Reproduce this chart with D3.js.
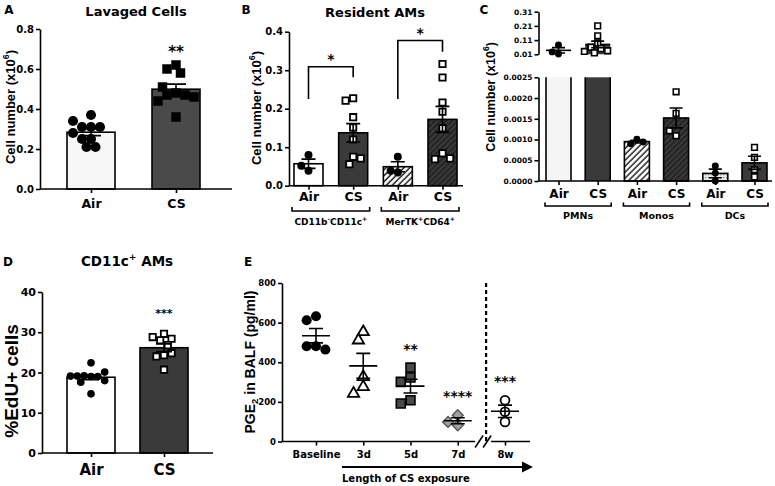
<!DOCTYPE html>
<html><head><meta charset="utf-8">
<script src="https://cdn.jsdelivr.net/npm/d3@7"></script>
<style>body{margin:0;background:#fff} svg{display:block}</style>
</head><body><svg id="c" width="775" height="486"></svg>
<script>
// ---------------- DATA ----------------
// Panel A: Lavaged cells (x10^6)
const aCats = ["Air", "CS"];
const aAir = [0.37, 0.31, 0.31, 0.31, 0.34, 0.25, 0.21, 0.21, 0.25, 0.28];
const aCS = [0.62, 0.60, 0.58, 0.48, 0.47, 0.47, 0.51, 0.36, 0.44, 0.46];
const aTicks = [0, 0.2, 0.4, 0.6, 0.8];

// Panel B: Resident AMs
const bKeys = ["cdAir", "cdCS", "merAir", "merCS"];
const bLabels = ["Air", "CS", "Air", "CS"];
const bCD11Air = [0.080, 0.039, 0.052];
const bCD11CS = [0.227, 0.221, 0.178, 0.151, 0.120, 0.075, 0.056, 0.071];
const bMerAir = [0.075, 0.034, 0.039];
const bMerCS = [0.316, 0.281, 0.216, 0.192, 0.149, 0.084, 0.069, 0.071];
const bTicks = [0, 0.1, 0.2, 0.3, 0.4];
const bBracketTop = [0.309, 0.377];
const bBracketLegs = [[0.225, 0.282], [0.225, 0.348]];

// Panel C: PMNs, Monos, DCs
const cKeys = ["pmnAir", "pmnCS", "monoAir", "monoCS", "dcAir", "dcCS"];
const cLabels = ["Air", "CS", "Air", "CS", "Air", "CS"];
const cGroups = ["PMNs", "Monos", "DCs"];
const cPmnAir = [0.075, 0.012, 0.027];
const cPmnCS = [0.21, 0.14, 0.09, 0.06, 0.05, 0.035, 0.02, 0.03];
const cMonoAir = [0.00101, 0.00090, 0.00094];
const cMonoCS = [0.00215, 0.00163, 0.00109, 0.00121];
const cDcAir = [0.00036, 0.00019, 0.00000];
const cDcCS = [0.00081, 0.00057, 0.00027, 0.00010];
const cTopTicks = [0.01, 0.11, 0.21, 0.31];
const cBotTicks = [0, 0.0005, 0.0010, 0.0015, 0.0020, 0.0025];

// Panel D: %EdU+ CD11c+ AMs
const dCats = ["Air", "CS"];
const dAir = [22.4, 19.0, 19.2, 19.0, 19.1, 20.1, 17.6, 18.0, 19.1, 14.7];
const dCS = [29.6, 28.0, 28.4, 28.8, 26.8, 24.3, 24.0, 24.8, 20.7];
const dTicks = [0, 10, 20, 30, 40];

// Panel E: PGE2 in BALF
const eCats = ["Baseline", "3d", "5d", "7d", "8w"];
const eBaseline = [632, 612, 481, 481, 464];
const e3d = [553, 511, 326, 276, 242];
const e5d = [373, 323, 301, 208, 192];
const e7d = [133, 99, 82];
const e8w = [208, 150, 99];
const eStars = ["", "", "**", "****", "***"];
const eTicks = [0, 200, 400, 600, 800];

// ---------------- HELPERS ----------------
const F = '"DejaVu Sans", sans-serif';
const FR = '"Liberation Sans", Arial, sans-serif';
const svg = d3.select("#c");
const defs = svg.append("defs");
const SW = 1.6;

function hatch(id, bg, fg, sp, w) {
  const p = defs.append("pattern").attr("id", id).attr("patternUnits", "userSpaceOnUse")
    .attr("width", sp).attr("height", sp).attr("patternTransform", "rotate(45)");
  p.append("rect").attr("width", sp).attr("height", sp).attr("fill", bg);
  p.append("line").attr("x1", 1).attr("y1", 0).attr("x2", 1).attr("y2", sp).attr("stroke", fg).attr("stroke-width", w);
}
hatch("hWhite", "#fff", "#222", 4.2, 1.5);
hatch("hDark2", "#3a3a3a", "#1a1a1a", 4, 1.4);
(function(){
  const p = defs.append("pattern").attr("id", "dots").attr("patternUnits", "userSpaceOnUse").attr("width", 3).attr("height", 3);
  p.append("rect").attr("width", 3).attr("height", 3).attr("fill", "#e8e8e8");
  p.append("rect").attr("width", 1.2).attr("height", 1.2).attr("fill", "#888");
})();

function label(g, xc, yc, parts, fs, o = {}) {
  const t = g.append("text").attr("x", xc).attr("y", yc + 0.36 * fs)
    .attr("text-anchor", o.anchor || "middle").attr("font-family", o.rot ? FR : F)
    .attr("font-weight", "bold").attr("font-size", fs).attr("fill", "#000");
  if (o.rot) t.attr("transform", `rotate(-90,${xc},${yc})`);
  if (typeof parts === "string") parts = [{ t: parts }];
  let cur = 0;
  parts.forEach(p => {
    const target = p.sup ? -0.42 * fs : p.sub ? 0.22 * fs : 0;
    const ts = t.append("tspan").text(p.t).attr("dy", target - cur);
    if (p.sup || p.sub) ts.attr("font-size", fs * 0.68);
    cur = target;
  });
  return t;
}
function styleAxis(a, fs) {
  a.select(".domain").attr("stroke", "#000").attr("stroke-width", SW);
  a.selectAll(".tick line").attr("stroke", "#000").attr("stroke-width", SW);
  a.selectAll(".tick text").attr("font-family", F).attr("font-weight", "bold").attr("font-size", fs).attr("fill", "#000");
}
function yAxis(g, scale, x, ticks, fmt, fs) {
  const a = g.append("g").attr("transform", `translate(${x},0)`)
    .call(d3.axisLeft(scale).tickValues(ticks).tickFormat(fmt).tickSize(4).tickSizeOuter(0).tickPadding(2));
  styleAxis(a, fs);
  return a;
}
function xAxis(g, scale, y, x0, x1, fs, labelOff, fmt) {
  const pad = labelOff - 0.365 * fs - 4;
  const a = g.append("g").attr("transform", `translate(0,${y})`)
    .call(d3.axisBottom(scale).tickSize(4).tickSizeOuter(0).tickPadding(pad).tickFormat(fmt || (d => d)));
  styleAxis(a, fs);
  a.select(".domain").remove();
  if (x0 !== null) g.append("line").attr("x1", x0).attr("x2", x1).attr("y1", y).attr("y2", y).attr("stroke", "#000").attr("stroke-width", SW);
  return a;
}
function bar(g, cx, w, yTop, yBot, fill, stroke = true) {
  g.append("rect").attr("x", cx - w / 2).attr("y", yTop).attr("width", w).attr("height", Math.max(0, yBot - yTop))
    .attr("fill", fill).attr("stroke", stroke ? "#000" : "none").attr("stroke-width", SW);
}
function errBar(g, cx, yM, yLo, yHi, cap, meanW) {
  const p = d3.path();
  p.moveTo(cx, yLo); p.lineTo(cx, yHi);
  p.moveTo(cx - cap / 2, yHi); p.lineTo(cx + cap / 2, yHi);
  p.moveTo(cx - cap / 2, yLo); p.lineTo(cx + cap / 2, yLo);
  if (meanW) { p.moveTo(cx - meanW / 2, yM); p.lineTo(cx + meanW / 2, yM); }
  g.append("path").attr("d", p.toString()).attr("stroke", "#000").attr("stroke-width", SW).attr("fill", "none");
}
const sem = a => d3.deviation(a) / Math.sqrt(a.length);
function swarm(vals, yf, cx, r) {
  const placed = [];
  return vals.map(v => {
    const y = yf(v); let x = cx;
    for (let i = 0; i < 60; i++) {
      const off = i === 0 ? 0 : Math.ceil(i / 2) * r * 0.9 * (i % 2 ? -1 : 1);
      const c = cx + off;
      if (placed.every(p => Math.hypot(p.x - c, p.y - y) >= 2 * r * 0.88)) { x = c; break; }
    }
    placed.push({ x, y });
    return { x, y, v };
  });
}
function points(g, vals, yf, cx, sym, size, fill, stroke, sw, r, rot) {
  const pts = swarm(vals, yf, cx, r);
  g.selectAll(null).data(pts).join("path")
    .attr("transform", d => `translate(${d.x},${d.y})` + (rot ? ` rotate(${rot})` : ""))
    .attr("d", d3.symbol(sym, size)()).attr("fill", fill).attr("stroke", stroke).attr("stroke-width", sw);
}
function bracket(g, x0, x1, y, h) {
  g.append("path").attr("d", `M${x0},${y - h}V${y}H${x1}V${y - h}`).attr("fill", "none").attr("stroke", "#000").attr("stroke-width", SW);
}

// ---------------- PANEL A ----------------
{
  const g = svg.append("g");
  const y = d3.scaleLinear().domain([0, 0.8]).range([189, 29]);
  const x = d3.scalePoint().domain(aCats).range([91, 176]);
  const series = [aAir, aCS];
  const fills = ["#f7f7f7", "#4a4a4a"];
  series.forEach((s, i) => bar(g, x(aCats[i]), 48, y(d3.mean(s)), y(0), fills[i]));
  points(g, aAir, y, x("Air"), d3.symbolCircle, 80, "#000", "none", 0, 5);
  points(g, aCS, y, x("CS"), d3.symbolSquare, 90, "#000", "none", 0, 5);
  series.forEach((s, i) => { const m = d3.mean(s), e = sem(s); errBar(g, x(aCats[i]), y(m), y(m - e), y(m + e), 20, 0); });
  yAxis(g, y, 40, aTicks, d3.format(".1f"), 10);
  xAxis(g, x, 189, 40, 232, 12.5, 15);
  label(g, x("CS"), y(d3.max(aCS)) - 13, "**", 15);
  label(g, 136, 11, "Lavaged Cells", 13);
  label(g, 10, 107, [{ t: "Cell number (x10" }, { t: "6", sup: true }, { t: ")" }], 13, { rot: true });
  label(g, 9, 10, "A", 12);
}

// ---------------- PANEL B ----------------
{
  const g = svg.append("g");
  const y = d3.scaleLinear().domain([0, 0.4]).range([185.7, 31.7]);
  const x = d3.scalePoint().domain(bKeys).range([308.5, 442.5]);
  const series = [bCD11Air, bCD11CS, bMerAir, bMerCS];
  const fills = ["#fff", "#3a3a3a", "url(#hWhite)", "url(#hDark2)"];
  series.forEach((s, i) => bar(g, x(bKeys[i]), 29, y(d3.mean(s)), y(0), fills[i]));
  [0, 2].forEach(i => points(g, series[i], y, x(bKeys[i]), d3.symbolCircle, 50, "#000", "none", 0, 4));
  [1, 3].forEach(i => points(g, series[i], y, x(bKeys[i]), d3.symbolSquare, 40, "#fff", "#000", 1.8, 4.2));
  series.forEach((s, i) => { const m = d3.mean(s), e = sem(s); errBar(g, x(bKeys[i]), y(m), y(m - e), y(m + e), 14, 0); });
  yAxis(g, y, 289, bTicks, d3.format(".1f"), 10);
  xAxis(g, x, 185.7, 289, 463, 12.5, 11.3, (d, i) => bLabels[i]);
  [[0, 1], [2, 3]].forEach((pr, k) => {
    const x0 = x(bKeys[pr[0]]), x1 = x(bKeys[pr[1]]);
    const yt = y(bBracketTop[k]);
    g.append("path").attr("d", `M${x0},${y(bBracketLegs[k][0])}V${yt}H${x1}V${y(bBracketLegs[k][1])}`)
      .attr("fill", "none").attr("stroke", "#000").attr("stroke-width", SW);
    label(g, (x0 + x1) / 2, yt - 8, "*", 14);
  });
  const grp = [[0, 1, [{ t: "CD11b" }, { t: "-", sup: true }, { t: "CD11c" }, { t: "+", sup: true }]],
               [2, 3, [{ t: "MerTK" }, { t: "+", sup: true }, { t: "CD64" }, { t: "+", sup: true }]]];
  grp.forEach(([a, b, txt]) => {
    const x0 = x(bKeys[a]) - 16.5, x1 = x(bKeys[b]) + 16.5;
    bracket(g, x0, x1, 211, 4);
    label(g, (x0 + x1) / 2, 222, txt, 9);
  });
  label(g, 375, 12, "Resident AMs", 13);
  label(g, 256, 108, [{ t: "Cell number (x10" }, { t: "6", sup: true }, { t: ")" }], 13, { rot: true });
  label(g, 246, 10, "B", 12);
}

// ---------------- PANEL C ----------------
{
  const g = svg.append("g");
  const yT = d3.scaleLinear().domain([0.01, 0.31]).range([54.3, 11.7]);
  const yB = d3.scaleLinear().domain([0, 0.0025]).range([181, 77.3]);
  const x = d3.scalePoint().domain(cKeys).range([558.5, 754.5]);
  const series = [cPmnAir, cPmnCS, cMonoAir, cMonoCS, cDcAir, cDcCS];
  const fills = ["#f5f5f5", "#3a3a3a", "url(#hWhite)", "url(#hDark2)", "url(#dots)", "#3a3a3a"];
  const w = 25;
  [0, 1].forEach(i => {
    const cx = x(cKeys[i]), m = d3.mean(series[i]);
    bar(g, cx, w, yB(0.0025), yB(0), fills[i], false);
    g.append("path").attr("d", `M${cx - w / 2},${yB(0.0025)}V${yB(0)}M${cx + w / 2},${yB(0.0025)}V${yB(0)}`)
      .attr("stroke", "#000").attr("stroke-width", SW);
    bar(g, cx, w, yT(m), yT(0.01), fills[i], false);
    g.append("line").attr("x1", cx - w / 2).attr("x2", cx + w / 2).attr("y1", yT(m)).attr("y2", yT(m)).attr("stroke", "#000").attr("stroke-width", SW);
  });
  [2, 3, 4, 5].forEach(i => bar(g, x(cKeys[i]), w, yB(d3.mean(series[i])), yB(0), fills[i]));
  points(g, cPmnAir, yT, x("pmnAir"), d3.symbolCircle, 38, "#000", "none", 0, 3.5);
  points(g, cPmnCS, yT, x("pmnCS"), d3.symbolSquare, 32, "#fff", "#000", 1.6, 3.7);
  points(g, cMonoAir, yB, x("monoAir"), d3.symbolCircle, 38, "#000", "none", 0, 3.5);
  points(g, cMonoCS, yB, x("monoCS"), d3.symbolSquare, 32, "#fff", "#000", 1.6, 3.7);
  points(g, cDcAir, yB, x("dcAir"), d3.symbolCircle, 38, "#000", "none", 0, 3.5);
  points(g, cDcCS, yB, x("dcCS"), d3.symbolSquare, 32, "#fff", "#000", 1.6, 3.7);
  series.forEach((s, i) => {
    const ys = i < 2 ? yT : yB; const m = d3.mean(s), e = sem(s);
    errBar(g, x(cKeys[i]), ys(m), ys(i < 2 ? Math.max(0.01, m - e) : Math.max(0, m - e)), ys(m + e), 13, 0);
  });
  yAxis(g, yT, 538.5, cTopTicks, d3.format(".2f"), 7.5);
  yAxis(g, yB, 538.5, cBotTicks, d3.format(".4f"), 7.5);
  xAxis(g, x, 181, 538.5, 772, 12, 13, (d, i) => cLabels[i]);
  cGroups.forEach((gr, k) => {
    const x0 = x(cKeys[2 * k]) - 13.5, x1 = x(cKeys[2 * k + 1]) + 13.5;
    bracket(g, x0, x1, 206, 3.5);
    label(g, (x0 + x1) / 2, 216, gr, 9.5);
  });
  label(g, 490, 97, [{ t: "Cell number (x10" }, { t: "6", sup: true }, { t: ")" }], 12.5, { rot: true });
  label(g, 484, 10, "C", 12);
}

// ---------------- PANEL D ----------------
{
  const g = svg.append("g");
  const y = d3.scaleLinear().domain([0, 40]).range([453, 292]);
  const x = d3.scalePoint().domain(dCats).range([91, 164]);
  const series = [dAir, dCS];
  const fills = ["#fff", "#3a3a3a"];
  series.forEach((s, i) => bar(g, x(dCats[i]), 48, y(d3.mean(s)), y(0), fills[i]));
  points(g, dAir, y, x("Air"), d3.symbolCircle, 46, "#000", "none", 0, 3.8);
  points(g, dCS, y, x("CS"), d3.symbolSquare, 40, "#fff", "#000", 1.8, 4.2);
  series.forEach((s, i) => { const m = d3.mean(s), e = sem(s); errBar(g, x(dCats[i]), y(m), y(m - e), y(m + e), 16, 0); });
  yAxis(g, y, 42, dTicks, d3.format("d"), 11);
  xAxis(g, x, 453, 42, 213, 15, 17);
  label(g, x("CS"), y(d3.max(dCS)) - 21, "***", 11);
  label(g, 127, 261, [{ t: "CD11c" }, { t: "+", sup: true }, { t: " AMs" }], 13.5);
  label(g, 11, 381, "%EdU+ cells", 19, { rot: true });
  label(g, 8, 262, "D", 12);
}

// ---------------- PANEL E ----------------
{
  const g = svg.append("g");
  const y = d3.scaleLinear().domain([0, 800]).range([441.5, 283]);
  const x = d3.scalePoint().domain(eCats).range([316, 505]);
  const series = [eBaseline, e3d, e5d, e7d, e8w];
  const step = x.step();
  const breakX = x("7d") + step * 0.6;
  g.append("line").attr("x1", breakX).attr("x2", breakX).attr("y1", y(800)).attr("y2", y(0))
    .attr("stroke", "#000").attr("stroke-width", 2.2).attr("stroke-dasharray", "4,3");
  points(g, eBaseline, y, x("Baseline"), d3.symbolCircle, 80, "#000", "none", 0, 5.2);
  points(g, e3d, y, x("3d"), d3.symbolTriangle, 55, "#fff", "#000", 1.8, 5.4);
  points(g, e5d, y, x("5d"), d3.symbolSquare, 80, "#4a4a4a", "#000", 1.6, 5.4);
  points(g, e7d, y, x("7d"), d3.symbolSquare, 58, "#a0a0a0", "#555", 1.4, 5.4, 45);
  points(g, e8w, y, x("8w"), d3.symbolCircle, 62, "#fff", "#000", 1.8, 5.2);
  series.forEach((s, i) => {
    const m = d3.mean(s), e = sem(s);
    errBar(g, x(eCats[i]), y(m), y(m - e), y(m + e), 14, 28);
    if (eStars[i]) label(g, x(eCats[i]), y(d3.max(s)) - 19, eStars[i], 14);
  });
  yAxis(g, y, 282, eTicks, d3.format("d"), 8.5);
  xAxis(g, x, 441.5, null, null, 10, 13.5);
  g.append("line").attr("x1", 282).attr("x2", breakX - 11).attr("y1", 441.5).attr("y2", 441.5).attr("stroke", "#000").attr("stroke-width", SW);
  g.append("line").attr("x1", breakX + 5).attr("x2", 530).attr("y1", 441.5).attr("y2", 441.5).attr("stroke", "#000").attr("stroke-width", SW);
  [-7, 1].forEach(o => g.append("line").attr("x1", breakX + o - 4).attr("x2", breakX + o + 4)
    .attr("y1", 447.5).attr("y2", 435.5).attr("stroke", "#000").attr("stroke-width", SW));
  g.append("line").attr("x1", 342).attr("x2", 524).attr("y1", 467).attr("y2", 467).attr("stroke", "#000").attr("stroke-width", 2.2);
  g.append("path").attr("d", "M522,461.5L533,467L522,472.5Z").attr("fill", "#000");
  label(g, 342, 478, "Length of CS exposure", 10, { anchor: "start" });
  label(g, 250, 362, [{ t: "PGE" }, { t: "2", sub: true }, { t: " in BALF (pg/ml)" }], 14, { rot: true });
  label(g, 248, 262, "E", 12);
}
</script></body></html>
